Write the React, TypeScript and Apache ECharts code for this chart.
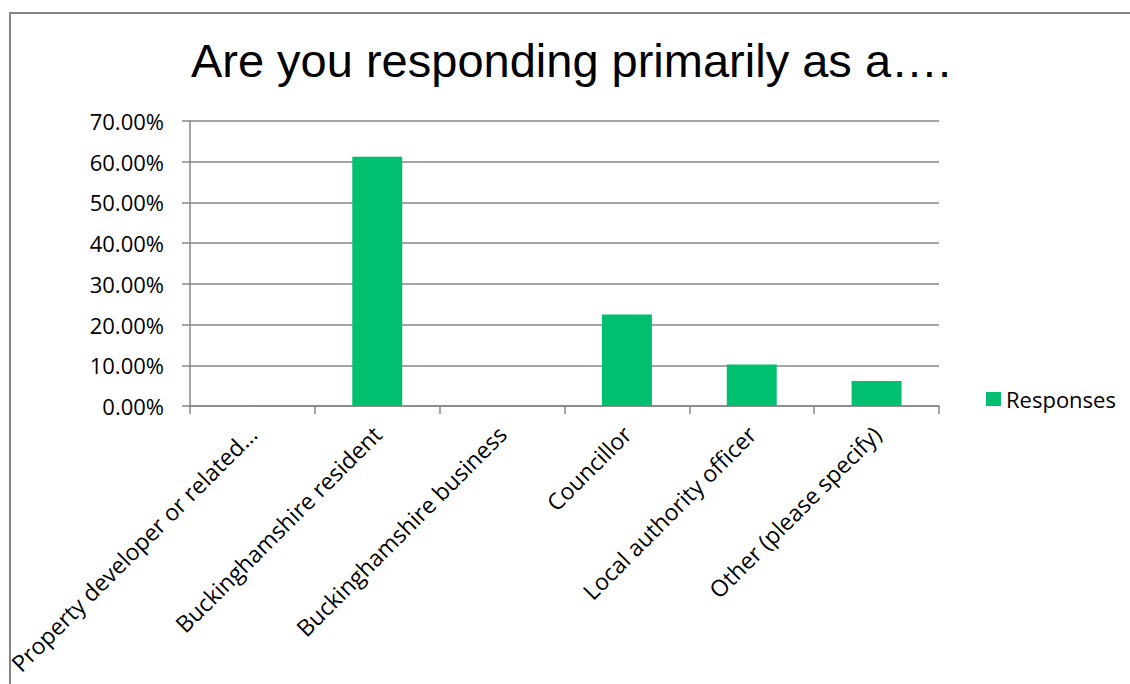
import React, { useEffect, useRef } from "react";
import * as echarts from "echarts";

const categories = [
  "Property developer or related…",
  "Buckinghamshire resident",
  "Buckinghamshire business",
  "Councillor",
  "Local authority officer",
  "Other (please specify)",
];
const responses = [0, 61.22, 0, 22.45, 10.2, 6.12];
const seriesName = "Responses";
const titleText = "Are you responding primarily as a….";

export default function App() {
  const ref = useRef<HTMLDivElement>(null);
  useEffect(() => {
    document.body.style.margin = "0";
    const chart = echarts.init(ref.current!, null, { renderer: "svg" });
    const labelFont = "'Open Sans', sans-serif";
    chart.setOption({
      animation: false,
      backgroundColor: "#ffffff",
      graphic: [
        {
          type: "rect",
          shape: { x: 10, y: 13, width: 2000, height: 2000 },
          style: { fill: "none", stroke: "#858585", lineWidth: 2 },
          silent: true,
        },
        {
          type: "text",
          x: 571,
          y: 60,
          style: {
            text: titleText,
            font: "47px 'Liberation Sans', Arial, sans-serif",
            fill: "#000000",
            align: "center",
            verticalAlign: "middle",
          },
        },
      ],
      legend: {
        data: [seriesName],
        left: 981,
        top: 383,
        icon: "rect",
        itemWidth: 15,
        itemHeight: 14,
        textStyle: { fontFamily: labelFont, fontSize: 22, color: "#000" },
      },
      grid: { left: 190, right: 191, top: 121, bottom: 278, containLabel: false },
      xAxis: {
        type: "category",
        data: categories,
        axisLine: { lineStyle: { color: "#868686", width: 1.5 } },
        axisTick: { show: true, length: 8, lineStyle: { color: "#868686", width: 1.5 } },
        axisLabel: {
          rotate: 45,
          interval: 0,
          margin: 24,
          fontFamily: labelFont,
          fontSize: 23,
          color: "#000",
        },
      },
      yAxis: {
        type: "value",
        min: 0,
        max: 70,
        interval: 10,
        axisLine: { show: true, lineStyle: { color: "#868686", width: 1.5 } },
        axisTick: { show: true, length: 8, lineStyle: { color: "#868686", width: 1.5 } },
        splitLine: { show: true, lineStyle: { color: "#868686", width: 1.5 } },
        axisLabel: {
          margin: 26,
          fontFamily: labelFont,
          fontSize: 22,
          color: "#000",
          formatter: (v: number) => v.toFixed(2) + "%",
        },
      },
      series: [
        {
          name: seriesName,
          type: "bar",
          data: responses,
          barWidth: "40%",
          itemStyle: { color: "#00BF6F" },
        },
      ],
    });
    return () => chart.dispose();
  }, []);
  return <div ref={ref} style={{ width: 1130, height: 684 }} />;
}
